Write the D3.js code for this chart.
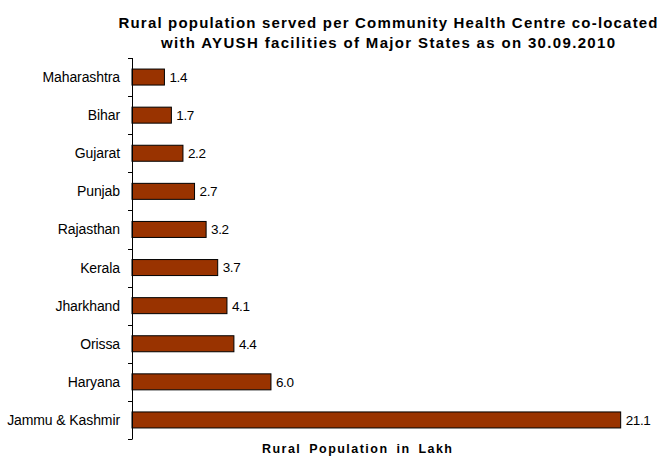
<!DOCTYPE html>
<html>
<head>
<meta charset="utf-8">
<script src="https://cdn.jsdelivr.net/npm/d3@7"></script>
<style>
  body { margin: 0; background: #fff; }
  text { font-family: "Liberation Sans", Arial, sans-serif; fill: #000; }
</style>
</head>
<body>
<svg id="chart"></svg>
<script>
const states = ["Maharashtra", "Bihar", "Gujarat", "Punjab", "Rajasthan", "Kerala",
                "Jharkhand", "Orissa", "Haryana", "Jammu & Kashmir"];
const population = [1.4, 1.7, 2.2, 2.7, 3.2, 3.7, 4.1, 4.4, 6.0, 21.1];
const titleLines = ["Rural population served per Community Health Centre co-located",
                    "with AYUSH facilities of Major States as on 30.09.2010"];

const width = 665, height = 457;
const margin = { top: 58, left: 132, bottom: 18 };

const svg = d3.select("#chart")
  .attr("width", width)
  .attr("height", height);

const x = d3.scaleLinear().domain([0, 22]).range([margin.left, margin.left + 22 * 23.16]);
const y = d3.scaleBand().domain(states).range([margin.top, 439]).paddingInner(0.58).paddingOuter(0.29);

// title (widths stretched to match the original's loose spacing)
const titleWidths = [539, 454];
svg.append("g").selectAll("text")
  .data(titleLines)
  .join("text")
  .attr("x", 388)
  .attr("y", (d, i) => 28 + i * 20)
  .attr("text-anchor", "middle")
  .attr("textLength", (d, i) => titleWidths[i])
  .attr("lengthAdjust", "spacing")
  .style("font-size", "15px")
  .style("font-weight", "bold")
  .text(d => d);

// bars
svg.append("g").selectAll("rect")
  .data(population)
  .join("rect")
  .attr("x", x(0))
  .attr("y", (d, i) => y(states[i]))
  .attr("width", d => x(d) - x(0))
  .attr("height", y.bandwidth())
  .attr("fill", "#993300")
  .attr("stroke", "#000")
  .attr("stroke-width", 1);

// value labels
svg.append("g").selectAll("text")
  .data(population)
  .join("text")
  .attr("x", d => x(d) + 5)
  .attr("y", (d, i) => y(states[i]) + y.bandwidth() / 2)
  .attr("dy", "0.36em")
  .style("font-size", "13.5px")
  .style("letter-spacing", "-0.4px")
  .text(d => d.toFixed(1));

// y axis line with tick marks at the band edges
const axis = svg.append("g");
axis.append("line")
  .attr("x1", x(0) + 0.5).attr("x2", x(0) + 0.5)
  .attr("y1", margin.top).attr("y2", 439)
  .attr("stroke", "#000");
const edges = d3.range(states.length + 1).map(i => margin.top + i * y.step());
axis.selectAll("line.tick")
  .data(edges)
  .join("line")
  .attr("class", "tick")
  .attr("x1", x(0) - 4).attr("x2", x(0) + 0.5)
  .attr("y1", d => Math.round(d) + 0.5).attr("y2", d => Math.round(d) + 0.5)
  .attr("stroke", "#000");

// category labels
axis.selectAll("text")
  .data(states)
  .join("text")
  .attr("x", 120)
  .attr("y", d => y(d) + y.bandwidth() / 2)
  .attr("dy", "0.36em")
  .attr("text-anchor", "end")
  .style("font-size", "14px")
  .style("letter-spacing", "-0.1px")
  .text(d => d);

// x axis title
svg.append("text")
  .attr("x", 262)
  .attr("y", 453)
  .attr("textLength", 190)
  .attr("lengthAdjust", "spacing")
  .style("font-size", "12.5px")
  .style("font-weight", "bold")
  .style("word-spacing", "3px")
  .text("Rural Population in Lakh");
</script>
</body>
</html>
